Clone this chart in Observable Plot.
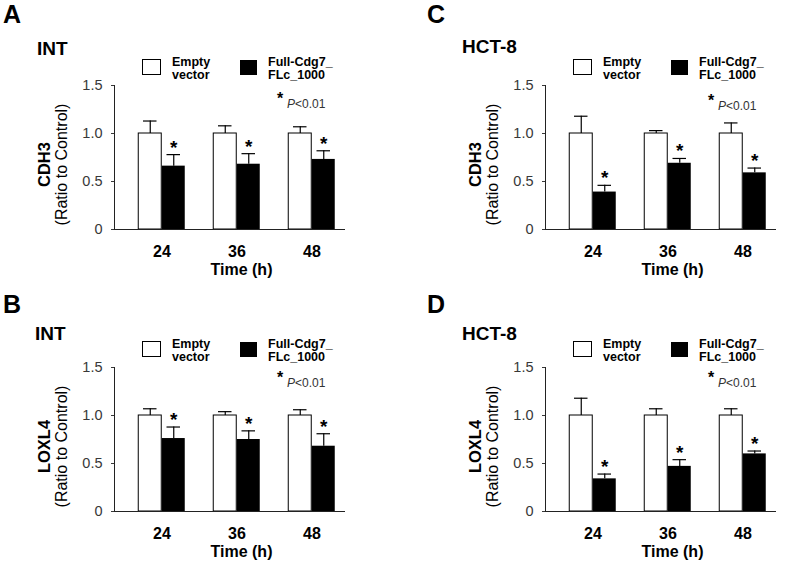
<!DOCTYPE html>
<html><head><meta charset="utf-8">
<script src="https://cdn.jsdelivr.net/npm/d3@7"></script>
<script src="https://cdn.jsdelivr.net/npm/@observablehq/plot@0.6"></script>
<style>
html,body{margin:0;padding:0;background:#fff;}
#root{position:relative;width:800px;height:561px;overflow:hidden;font-family:"Liberation Sans",Arial,sans-serif;}
.panel{position:absolute;}
#overlay{position:absolute;left:0;top:0;pointer-events:none;}
</style></head><body><div id="root"></div>
<script>
// ---- data ----
const times = ["24", "36", "48"];
const seriesNames = ["Empty vector", "Full-Cdg7_FLc_1000"];
const yTicks = [0, 0.5, 1.0, 1.5];

// Panel A: INT, CDH3
const aEmptyMean = [1.0, 1.0, 1.0];
const aEmptySem  = [0.13, 0.08, 0.07];
const aFullMean  = [0.66, 0.68, 0.73];
const aFullSem   = [0.12, 0.11, 0.09];
// Panel B: INT, LOXL4
const bEmptyMean = [1.0, 1.0, 1.0];
const bEmptySem  = [0.07, 0.04, 0.06];
const bFullMean  = [0.76, 0.75, 0.68];
const bFullSem   = [0.12, 0.09, 0.13];
// Panel C: HCT-8, CDH3
const cEmptyMean = [1.0, 1.0, 1.0];
const cEmptySem  = [0.18, 0.03, 0.11];
const cFullMean  = [0.39, 0.69, 0.59];
const cFullSem   = [0.07, 0.05, 0.05];
// Panel D: HCT-8, LOXL4
const dEmptyMean = [1.0, 1.0, 1.0];
const dEmptySem  = [0.18, 0.07, 0.07];
const dFullMean  = [0.34, 0.47, 0.60];
const dFullSem   = [0.05, 0.07, 0.03];

const panels = [
  {letter: "A", cell: "INT",   gene: "CDH3",  em: aEmptyMean, es: aEmptySem, fm: aFullMean, fs: aFullSem, ox: 0,   oy: 0,   lx: 3,   ly: 23,  cx: 37, cy: 55,  pY: 108},
  {letter: "B", cell: "INT",   gene: "LOXL4", em: bEmptyMean, es: bEmptySem, fm: bFullMean, fs: bFullSem, ox: 0,   oy: 282, lx: 3,   ly: 313, cx: 35, cy: 340, pY: 387},
  {letter: "C", cell: "HCT-8", gene: "CDH3",  em: cEmptyMean, es: cEmptySem, fm: cFullMean, fs: cFullSem, ox: 431, oy: 0,   lx: 427, ly: 23,  cx: 31, cy: 53,  pY: 110},
  {letter: "D", cell: "HCT-8", gene: "LOXL4", em: dEmptyMean, es: dEmptySem, fm: dFullMean, fs: dFullSem, ox: 431, oy: 282, lx: 427, ly: 313, cx: 31, cy: 340, pY: 387}
];

// ---- layout ----
const W = 369, H = 279, ML = 114, MR = 24, MT = 85, MB = 50;
const STEP = 75.5, X0 = 123.25;      // band range start
const HALF = STEP / 2, BARW = 23.5, CAPW = 14;
const FONT = "Liberation Sans, Arial, sans-serif";

const root = document.getElementById("root");

function makePanel(p) {
  const empty = times.map((t, i) => ({time: t, mean: p.em[i], top: p.em[i] + p.es[i]}));
  const full  = times.map((t, i) => ({time: t, mean: p.fm[i], top: p.fm[i] + p.fs[i]}));
  const chart = Plot.plot({
    width: W, height: H,
    marginLeft: ML, marginRight: MR, marginTop: MT, marginBottom: MB,
    style: {fontFamily: FONT, background: "transparent", overflow: "visible"},
    x: {domain: times, range: [X0, X0 + 3 * STEP], padding: 0, axis: null},
    y: {domain: [0, 1.5], axis: null},
    marks: [
      // error bars
      Plot.ruleX(empty, {x: "time", y1: "mean", y2: "top", dx: -BARW / 2, stroke: "#000", strokeWidth: 1.2}),
      Plot.tickY(empty, {x: "time", y: "top", insetLeft: HALF - BARW / 2 - CAPW / 2, insetRight: HALF + BARW / 2 - CAPW / 2, stroke: "#000", strokeWidth: 1.2}),
      Plot.ruleX(full, {x: "time", y1: "mean", y2: "top", dx: BARW / 2, stroke: "#000", strokeWidth: 1.2}),
      Plot.tickY(full, {x: "time", y: "top", insetLeft: HALF + BARW / 2 - CAPW / 2, insetRight: HALF - BARW / 2 - CAPW / 2, stroke: "#000", strokeWidth: 1.2}),
      // bars
      Plot.barY(empty, {x: "time", y: "mean", fill: "#fff", stroke: "#000", strokeWidth: 1, insetLeft: HALF - BARW, insetRight: HALF}),
      Plot.barY(full, {x: "time", y: "mean", fill: "#000", insetLeft: HALF, insetRight: HALF - BARW}),
      // significance stars
      Plot.text(full, {x: "time", y: "top", text: () => "*", dx: BARW / 2, dy: -1, lineAnchor: "bottom", fontSize: 19, fontWeight: "bold", fill: "#000"}),
      // axes
      Plot.axisY({ticks: yTicks, tickFormat: d => d === 0 ? "0" : d.toFixed(1), tickSize: 3, tickPadding: 9, fontSize: 14.5, color: "#383838", label: null}),
      Plot.axisX({tickSize: 0, tickPadding: 16, fontSize: 16, fontWeight: "bold", color: "#000", label: null}),
      Plot.frame({anchor: "left", stroke: "#222"}),
      Plot.ruleY([0], {stroke: "#222"}),
      // axis titles
      Plot.text([p.gene], {frameAnchor: "left", rotate: -90, dx: -70, dy: 7, textAnchor: "middle", lineAnchor: "middle", fontSize: 16.5, fontWeight: "bold", fill: "#000"}),
      Plot.text(["(Ratio to Control)"], {frameAnchor: "left", rotate: -90, dx: -53, dy: 7, textAnchor: "middle", lineAnchor: "middle", fontSize: 16, fill: "#000"}),
      Plot.text(["Time (h)"], {frameAnchor: "bottom", dx: 11.5, dy: 45, textAnchor: "middle", lineAnchor: "bottom", fontSize: 16, fontWeight: "bold", fill: "#000"})
    ]
  });
  const div = document.createElement("div");
  div.className = "panel";
  div.style.left = p.ox + "px";
  div.style.top = p.oy + "px";
  div.appendChild(chart);
  root.appendChild(div);
}
panels.forEach(makePanel);

// ---- overlay: panel letters, cell lines, legends, p-value notes ----
const svg = d3.create("svg").attr("id", "overlay").attr("width", 800).attr("height", 561)
  .style("font-family", FONT);
for (const p of panels) {
  svg.append("text").attr("x", p.lx).attr("y", p.ly).attr("font-size", 25).attr("font-weight", "bold").text(p.letter);
  svg.append("text").attr("x", p.ox + p.cx).attr("y", p.cy).attr("font-size", 19).attr("font-weight", "bold").text(p.cell);
  const g = svg.append("g").attr("transform", `translate(${p.ox},${p.oy})`);
  g.append("rect").attr("x", 142.5).attr("y", 59.5).attr("width", 18).attr("height", 15).attr("fill", "#fff").attr("stroke", "#000");
  g.append("rect").attr("x", 240).attr("y", 60).attr("width", 17).attr("height", 15).attr("fill", "#000");
  const lab = (x, lines) => {
    const t = g.append("text").attr("x", x).attr("y", 66).attr("font-size", 12.5).attr("font-weight", "bold");
    lines.forEach((s, i) => t.append("tspan").attr("x", x).attr("dy", i ? 13 : 0).text(s));
  };
  lab(172, ["Empty", "vector"]);
  lab(268, ["Full-Cdg7_", "FLc_1000"]);
  const pg = svg.append("g").attr("transform", `translate(${p.ox},0)`);
  pg.append("text").attr("x", 277).attr("y", p.pY - 4).attr("font-size", 16).attr("font-weight", "bold").text("*");
  const pt = pg.append("text").attr("x", 287).attr("y", p.pY).attr("font-size", 12).attr("fill", "#333");
  pt.append("tspan").attr("font-style", "italic").text("P");
  pt.append("tspan").text("<0.01");
}
root.appendChild(svg.node());
</script>
</body></html>
